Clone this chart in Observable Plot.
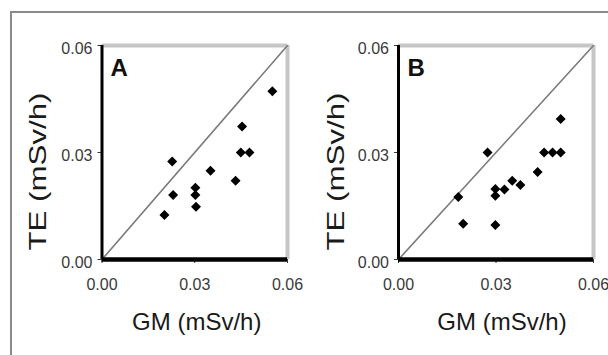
<!DOCTYPE html>
<html>
<head>
<meta charset="utf-8">
<script src="https://cdn.jsdelivr.net/npm/d3@7"></script>
<script src="https://cdn.jsdelivr.net/npm/@observablehq/plot@0.6"></script>
<style>
  html, body { margin: 0; padding: 0; background: #fff; }
  #wrap { position: relative; width: 608px; height: 355px; overflow: hidden; background: #fff; }
  #frame { position: absolute; left: 10px; top: 11px; width: 700px; height: 500px;
           border-left: 2.5px solid #8a8a8a; border-top: 2.5px solid #8a8a8a; }
</style>
</head>
<body>
<div id="wrap"><div id="frame"></div></div>
<script>
// ---- data ----
const panelLetters = ["A", "B"];
const xTitle = "GM (mSv/h)";
const yTitle = "TE (mSv/h)";
const axisDomain = [0, 0.06];
const tickValues = [0, 0.03, 0.06];

const gmA = [0.0551, 0.0453, 0.0449, 0.0477, 0.0227, 0.0351, 0.0432, 0.0302, 0.0302, 0.0230, 0.0304, 0.0202];
const teA = [0.0472, 0.0373, 0.0300, 0.0300, 0.0275, 0.0249, 0.0221, 0.0201, 0.0181, 0.0181, 0.0148, 0.0125];

const gmB = [0.0499, 0.0448, 0.0474, 0.0499, 0.0274, 0.0428, 0.0350, 0.0375, 0.0326, 0.0298, 0.0298, 0.0184, 0.0199, 0.0298];
const teB = [0.0394, 0.0300, 0.0300, 0.0300, 0.0300, 0.0245, 0.0221, 0.0209, 0.0196, 0.0198, 0.0179, 0.0175, 0.0100, 0.0097];

const FONT = "'Liberation Sans', Arial, Helvetica, sans-serif";

function makePanel(letter, gm, te, layout) {
  const pts = gm.map((g, i) => ({gm: g, te: te[i]}));
  const svg = Plot.plot({
    width: 304,
    height: 355,
    marginLeft: layout.left,
    marginRight: layout.right,
    marginTop: 45,
    marginBottom: 96,
    style: {fontFamily: FONT, fontSize: "16px", color: "#3a3a3a", background: "transparent", overflow: "visible"},
    x: {domain: axisDomain, ticks: tickValues, tickFormat: d3.format(".2f"), tickSize: 4, tickPadding: 15, label: null},
    y: {domain: axisDomain, ticks: tickValues, tickFormat: d3.format(".2f"), tickSize: 4, tickPadding: 5.5, label: null},
    marks: [
      Plot.ruleY([axisDomain[1]], {stroke: "#c6c6c6", strokeWidth: 4}),
      Plot.ruleX([axisDomain[1]], {stroke: "#c6c6c6", strokeWidth: 4}),
      Plot.line(axisDomain, {x: d => d, y: d => d, stroke: "#7a7a7a", strokeWidth: 1.6}),
      Plot.ruleX([axisDomain[0]], {stroke: "#000", strokeWidth: 3}),
      Plot.ruleY([axisDomain[0]], {stroke: "#000", strokeWidth: 4.5}),
      Plot.dot(pts, {x: "gm", y: "te", symbol: "diamond2", r: 4.5, fill: "#000", stroke: "none"}),
      Plot.text([letter], {text: d => d, frameAnchor: "top-left", textAnchor: "start", dx: layout.letterDx, dy: 13, lineAnchor: "top",
                           fontSize: 24, fontWeight: "bold", fill: "#111"}),
      Plot.text([xTitle], {text: d => d, frameAnchor: "bottom", textAnchor: "middle", dx: layout.xtDx, dy: 63, lineAnchor: "middle",
                           fontSize: 24, fill: "#1a1a1a"}),
      Plot.text([yTitle], {text: d => d, frameAnchor: "left", textAnchor: "middle", rotate: -90, dx: layout.ytDx, dy: 19, lineAnchor: "middle",
                           fontSize: 24, fill: "#1a1a1a"})
    ]
  });
  // stretch the y title along its length, as in the reference
  d3.select(svg).selectAll("text").filter(function() { return this.textContent === yTitle; })
    .attr("textLength", 158).attr("lengthAdjust", "spacingAndGlyphs");
  // nudge y tick labels slightly down (append to any existing transform)
  d3.select(svg).selectAll('g[aria-label="y-axis"] text, g[aria-label="y-axis tick label"] text')
    .attr("transform", function() {
      const t = this.getAttribute("transform");
      return t ? t + " translate(0,3)" : "translate(0,3)";
    });
  svg.style.position = "absolute";
  svg.style.left = layout.offset + "px";
  svg.style.top = "0px";
  document.getElementById("wrap").appendChild(svg);
}

makePanel(panelLetters[0], gmA, teA, {offset: 0, left: 101.5, right: 17, letterDx: 8.5, xtDx: 2, ytDx: -64});
makePanel(panelLetters[1], gmB, teB, {offset: 304, left: 94, right: 15, letterDx: 9, xtDx: 6, ytDx: -62});
</script>
</body>
</html>
